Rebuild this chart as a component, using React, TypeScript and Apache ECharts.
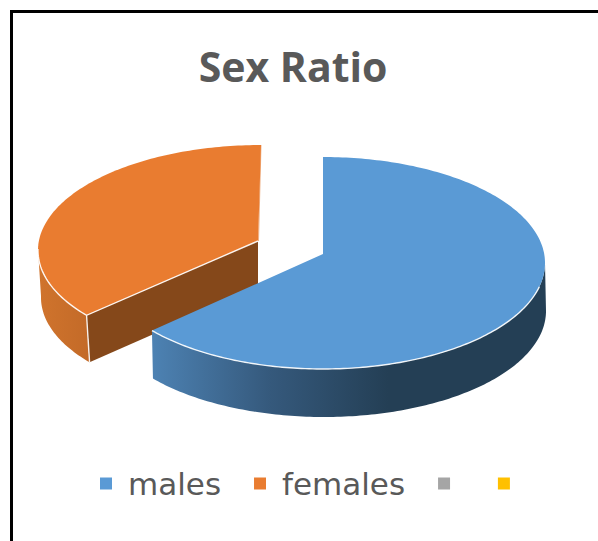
import React, { useEffect, useRef } from "react";
import * as echarts from "echarts";

const title = "Sex Ratio";
const categories = ["males", "females", " ", "  "];
const values = [64, 36, 0, 0];
const topColors = ["#5a9ad5", "#e97c30", "#a5a5a5", "#ffc000"];

const total = values.reduce((a, b) => a + b, 0);
const starts: number[] = [];
values.reduce((acc, v, i) => {
  starts[i] = (acc / total) * 360;
  return acc + v;
}, 0);

const sliceGeom: any[] = [
  {
    cx: 323, cy: 263, rx: 222, ry: 106, shear: 0, ax: 323, ay: 254, dx: 1, dy: 48,
    side: { type: "linear", x: 0, y: 0, x2: 1, y2: 0, colorStops: [
      { offset: 0, color: "#4d82b3" },
      { offset: 0.3, color: "#35597c" },
      { offset: 0.6, color: "#243f55" },
      { offset: 1, color: "#243f55" },
    ] },
    cut: "#2f5579",
  },
  {
    cx: 258, cy: 249, rx: 220, ry: 104, shear: 3, ax: 258, ay: 241, dx: 3, dy: 47,
    side: { type: "linear", x: 0, y: 0, x2: 1, y2: 0, colorStops: [
      { offset: 0, color: "#d0742d" },
      { offset: 1, color: "#c36a28" },
    ] },
    cut: "#85481a",
  },
];

function arc(g: any, a0: number, a1: number, ox = 0, oy = 0): number[][] {
  const pts: number[][] = [];
  const n = Math.max(2, Math.ceil(Math.abs(a1 - a0)));
  for (let i = 0; i <= n; i++) {
    const a = ((a0 + ((a1 - a0) * i) / n) * Math.PI) / 180;
    pts.push([
      g.cx + g.rx * Math.sin(a) + g.shear * Math.cos(a) + ox,
      g.cy - g.ry * Math.cos(a) + oy,
    ]);
  }
  return pts;
}
const toPath = (pts: number[][], close = false) =>
  pts.map((p, i) => (i ? "L" : "M") + p[0].toFixed(2) + " " + p[1].toFixed(2)).join(" ") + (close ? " Z" : "");

function sliceRender(idx: number) {
  return (_params: any, api: any) => {
    const value = api.value(0);
    if (!value) return null;
    const g = sliceGeom[idx];
    const a0 = starts[idx];
    const a1 = a0 + (value / total) * 360;
    const children: any[] = [];
    const raw = (d: string, style: any) =>
      children.push({ type: "path", shape: { pathData: d }, style });

    const from = Math.max(a0, 90);
    const to = Math.min(a1, 270);
    const top = arc(g, from, to);
    const bottom = arc(g, to, from, g.dx, g.dy);
    raw(toPath([...top, ...bottom], true), { fill: g.side, stroke: null });

    const corner = arc(g, a0, a0)[0];
    const apex = [g.ax, g.ay];
    if (a0 > 180) {
      raw(
        toPath([apex, corner, [corner[0] + g.dx, corner[1] + g.dy], [apex[0], apex[1] + g.dy]], true),
        { fill: g.cut, stroke: null }
      );
      const endPt = arc(g, a1, a1)[0];
      raw(toPath([endPt, [apex[0] + 0.5, apex[1]]]), { fill: null, stroke: "#f0b48a", lineWidth: 1 });
    }

    raw(toPath([apex, ...arc(g, a0, a1)], true), { fill: topColors[idx], stroke: null });

    const edge = { fill: null, stroke: "#ffffff", lineWidth: 1.4, opacity: 0.9 };
    if (a0 > 180) {
      raw(toPath([apex, ...arc(g, a0, to)]), edge);
      raw(toPath([corner, [corner[0] + g.dx, corner[1] + g.dy]]), edge);
    } else {
      raw(toPath(arc(g, 103, a1)), edge);
    }
    return { type: "group", children };
  };
}

export default function App() {
  const ref = useRef<HTMLDivElement>(null);
  useEffect(() => {
    document.body.style.margin = "0";
    document.body.style.background = "#ffffff";
    const chart = echarts.init(ref.current!, undefined, { renderer: "svg" });
    chart.setOption({
      animation: false,
      backgroundColor: "#ffffff",
      title: {
        text: title,
        left: 288,
        top: 40,
        textAlign: "center",
        textStyle: { fontFamily: "Open Sans", fontWeight: 700, fontSize: 41, color: "#595959" },
      },
      legend: {
        left: 95,
        top: 463,
        icon: "rect",
        itemWidth: 12,
        itemHeight: 12,
        itemGap: 33,
        selectedMode: false,
        data: categories.map((name, i) => ({
          name,
          textStyle: { padding: i < 2 ? [0, 0, 0, 11] : [0, 0, 0, 0] },
        })),
        textStyle: { fontFamily: "DejaVu Sans", fontSize: 31, color: "#595959" },
      },
      graphic: [
        {
          type: "polyline",
          silent: true,
          shape: { points: [[11.5, 541], [11.5, 11.5], [598, 11.5]] },
          style: { fill: null, stroke: "#000000", lineWidth: 3 },
        },
      ],
      series: categories.map((name, i) => ({
        type: "custom",
        name,
        coordinateSystem: "none",
        z: 2 + (categories.length - i),
        itemStyle: { color: topColors[i] },
        renderItem: sliceRender(i),
        data: [[values[i]]],
        silent: true,
      })),
    });
    return () => chart.dispose();
  }, []);
  return <div ref={ref} style={{ width: 598, height: 541 }} />;
}
